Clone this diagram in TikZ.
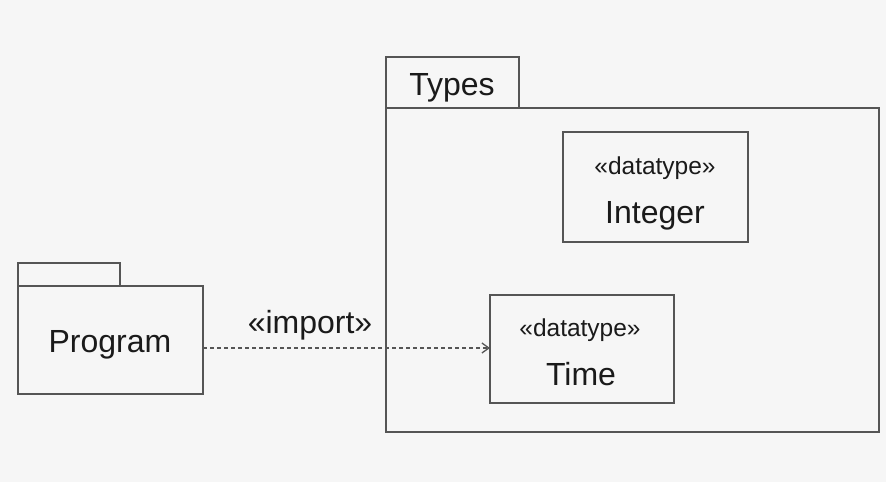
\documentclass[tikz,border=0pt]{standalone}
\usepackage{fontspec}
\setmainfont{Liberation Sans}
\usetikzlibrary{arrows.meta}
\definecolor{bg}{HTML}{F6F6F6}
\definecolor{ln}{HTML}{555555}
\definecolor{tx}{HTML}{1A1A1A}
\begin{document}
\begin{tikzpicture}[x=1pt,y=-1pt,
  box/.style={draw=ln,line width=2pt,fill=bg,inner sep=0pt,outer sep=0pt,anchor=north west},
  lbl/.style={text=tx,inner sep=0pt,anchor=base},
  big/.style={lbl,font=\fontsize{32}{36}\selectfont},
  small/.style={lbl,font=\fontsize{24.5}{28}\selectfont},
  dep/.style={draw=ln,line width=1.6pt,dash pattern=on 4pt off 3pt,-{Straight Barb[length=7pt,width=10pt,line width=1.3pt]}}]
\fill[bg] (0,0) rectangle (886,482);
\useasboundingbox (0,0) rectangle (886,482);
% Program package
\node[box,minimum width=102pt,minimum height=23pt] (ptab) at (18,263) {};
\node[box,minimum width=185pt,minimum height=108pt] (pbody) at (18,286) {};
\node[big] (ptext) at (110,352) {Program};
% Types package
\node[box,minimum width=133pt,minimum height=51pt] (ttab) at (386,57) {};
\node[box,minimum width=493pt,minimum height=324pt] (tbody) at (386,108) {};
\node[big] (ttext) at (452,95) {Types};
% Integer
\node[box,minimum width=185pt,minimum height=110pt] (intbox) at (563,132) {};
\node[small] (intst) at (655,174) {«datatype»};
\node[big] (intname) at (655,223) {Integer};
% Time
\node[box,minimum width=184pt,minimum height=108pt] (timebox) at (490,295) {};
\node[small] (timest) at (580,336) {«datatype»};
\node[big] (timename) at (581,385) {Time};
% dependency
\draw[dep] (pbody.east |- 0,348) -- (timebox.west |- 0,348);
\node[big] (imp) at (310,333) {«import»};
\end{tikzpicture}
\end{document}
